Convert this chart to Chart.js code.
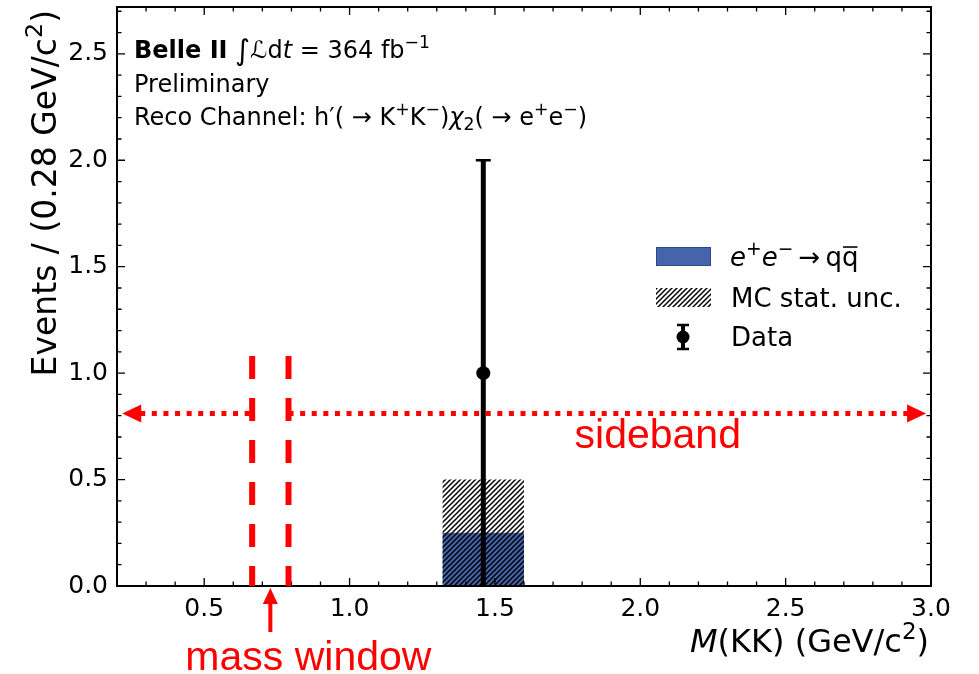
<!DOCTYPE html>
<html>
<head>
<meta charset="utf-8">
<script src="https://cdn.jsdelivr.net/npm/chart.js@4.4.0/dist/chart.umd.min.js"></script>
<style>
  html, body { margin: 0; padding: 0; background: #fff; }
</style>
</head>
<body>
<canvas id="c" width="979" height="674"></canvas>
<script>
// M(KK) histogram: 10 bins of 0.28 GeV/c^2 between 0.2 and 3.0
const binEdges = [0.20, 0.48, 0.76, 1.04, 1.32, 1.60, 1.88, 2.16, 2.44, 2.72, 3.00];
const qqCounts = [0, 0, 0, 0, 0.25, 0, 0, 0, 0, 0];
const qqStatErr = [0, 0, 0, 0, 0.25, 0, 0, 0, 0, 0];

// observed events (poisson error)
const dataX = [1.46];
const dataY = [1];
const dataErr = [1];

const xTicks = [0.5, 1.0, 1.5, 2.0, 2.5, 3.0];
const yTicks = [0.0, 0.5, 1.0, 1.5, 2.0, 2.5];

// mass window and sideband markers
const massWindow = [0.665, 0.79];
const sidebandY = 0.81;
const sidebandEnds = [0.218, 2.983];

const blue = '#4465ac';
const red = '#ff0000';
const font = '"DejaVu Sans"';

const canvas = document.getElementById('c');
const ctx0 = canvas.getContext('2d');

// hatch "////" pattern for the MC stat. uncertainty
function makeHatch() {
  const t = document.createElement('canvas');
  t.width = t.height = 5;
  const g = t.getContext('2d');
  g.strokeStyle = '#000';
  g.lineWidth = 1.5;
  for (const o of [-5, 0, 5]) {
    g.beginPath();
    g.moveTo(o - 1, 6);
    g.lineTo(o + 6, -1);
    g.stroke();
  }
  return ctx0.createPattern(t, 'repeat');
}
const hatch = makeHatch();

function stepPoints(vals) {
  const pts = vals.map((v, i) => ({ x: binEdges[i], y: v }));
  pts.push({ x: binEdges[binEdges.length - 1], y: vals[vals.length - 1] });
  return pts;
}

// text made of runs: bold / italic / super- and subscripts
function drawRuns(ctx, x, y, runs, size, align) {
  const fontOf = r => (r.i ? 'italic ' : '') + (r.b ? 'bold ' : '') + (size * (r.s || 1)).toFixed(1) + 'px ' + font;
  let total = 0;
  for (const r of runs) { ctx.font = fontOf(r); total += ctx.measureText(r.t).width; }
  let cx = align === 'right' ? x - total : x;
  ctx.textAlign = 'left';
  ctx.textBaseline = 'alphabetic';
  for (const r of runs) {
    ctx.font = fontOf(r);
    const w = ctx.measureText(r.t).width;
    ctx.fillText(r.t, cx, y + (r.dy || 0) * size);
    if (r.bar) ctx.fillRect(cx + 1, y - size * 0.76, w - 2, size * 0.06);
    cx += w;
  }
  return total;
}
const sup = t => ({ t: t, s: 0.72, dy: -0.42 });
const sub = t => ({ t: t, s: 0.72, dy: 0.22 });

function arrowHead(ctx, tipX, tipY, dx, dy, len, half) {
  // dx,dy: unit direction the arrow points to
  const bx = tipX - dx * len, by = tipY - dy * len;
  ctx.beginPath();
  ctx.moveTo(tipX, tipY);
  ctx.lineTo(bx - dy * half, by + dx * half);
  ctx.lineTo(bx + dy * half, by - dx * half);
  ctx.closePath();
  ctx.fill();
}

const errorBars = {
  id: 'errorBars',
  afterDatasetsDraw(chart) {
    const { ctx, scales: { x, y } } = chart;
    ctx.save();
    ctx.strokeStyle = '#000';
    dataX.forEach((v, i) => {
      const px = x.getPixelForValue(v);
      const lo = y.getPixelForValue(Math.max(0, dataY[i] - dataErr[i]));
      const hi = y.getPixelForValue(dataY[i] + dataErr[i]);
      ctx.lineWidth = 5;
      ctx.beginPath(); ctx.moveTo(px, lo); ctx.lineTo(px, hi); ctx.stroke();
      ctx.lineWidth = 2.5;
      ctx.beginPath(); ctx.moveTo(px - 7.5, hi); ctx.lineTo(px + 7.5, hi); ctx.stroke();
    });
    ctx.restore();
  }
};

const frame = {
  id: 'frame',
  afterDraw(chart) {
    const { ctx, chartArea: a, scales: { x, y } } = chart;
    ctx.save();
    ctx.strokeStyle = '#000';
    ctx.fillStyle = '#000';

    // inward ticks on all four sides
    ctx.lineWidth = 1.3;
    const tick = (isX, v, len) => {
      if (isX) {
        const p = x.getPixelForValue(v);
        ctx.beginPath();
        ctx.moveTo(p, a.bottom); ctx.lineTo(p, a.bottom - len);
        ctx.moveTo(p, a.top); ctx.lineTo(p, a.top + len);
        ctx.stroke();
      } else {
        const p = y.getPixelForValue(v);
        ctx.beginPath();
        ctx.moveTo(a.left, p); ctx.lineTo(a.left + len, p);
        ctx.moveTo(a.right, p); ctx.lineTo(a.right - len, p);
        ctx.stroke();
      }
    };
    for (let k = Math.ceil(x.min * 10 + 1e-6); k < x.max * 10 - 1e-6; k++) {
      const v = k / 10;
      tick(true, v, xTicks.some(t => Math.abs(t - v) < 1e-6) ? 8 : 4.5);
    }
    for (let k = 1; k < y.max * 10 - 1e-6; k++) {
      const v = k / 10;
      tick(false, v, yTicks.some(t => Math.abs(t - v) < 1e-6) ? 8 : 4.5);
    }
    ctx.lineWidth = 2;
    ctx.strokeRect(a.left, a.top, a.right - a.left, a.bottom - a.top);

    // axis titles
    drawRuns(ctx, a.right - 2, 652, [{ t: 'M', i: 1 }, { t: '(KK) (GeV/c' }, sup('2'), { t: ')' }], 32, 'right');
    ctx.save();
    ctx.translate(56, a.top + 3);
    ctx.rotate(-Math.PI / 2);
    drawRuns(ctx, 0, 0, [{ t: 'Events / (0.28 GeV/c' }, sup('2'), { t: ')' }], 33, 'right');
    ctx.restore();

    // experiment label
    const tx = a.left + 17;
    drawRuns(ctx, tx, 58, [{ t: 'Belle II', b: 1 }, { t: ' ' }, { t: '\u222B', s: 1.2, dy: 0.08 }, { t: '\u2112' },
      { t: 'd' }, { t: 't', i: 1 }, { t: ' = 364 fb' }, sup('\u22121')], 24);
    drawRuns(ctx, tx, 92, [{ t: 'Preliminary' }], 24);
    drawRuns(ctx, tx, 125, [{ t: 'Reco Channel: h\u2032( \u2192 K' }, sup('+'), { t: 'K' }, sup('\u2212'), { t: ')' },
      { t: '\u03C7', i: 1 }, sub('2'), { t: '( \u2192 e' }, sup('+'), { t: 'e' }, sup('\u2212'), { t: ')' }], 24);

    // legend
    ctx.fillStyle = blue;
    ctx.fillRect(656, 247, 55, 19);
    ctx.strokeStyle = '#2d4a85';
    ctx.lineWidth = 1;
    ctx.strokeRect(656.5, 247.5, 54, 18);
    ctx.fillStyle = hatch;
    ctx.fillRect(656, 288, 55, 19);
    ctx.fillStyle = '#000';
    ctx.strokeStyle = '#000';
    ctx.lineWidth = 4;
    ctx.beginPath(); ctx.moveTo(683, 324); ctx.lineTo(683, 350); ctx.stroke();
    ctx.lineWidth = 2.5;
    ctx.beginPath(); ctx.moveTo(677, 325); ctx.lineTo(689, 325); ctx.moveTo(677, 349); ctx.lineTo(689, 349); ctx.stroke();
    ctx.beginPath(); ctx.arc(683, 337, 6.5, 0, Math.PI * 2); ctx.fill();
    drawRuns(ctx, 730, 266, [{ t: 'e', i: 1 }, sup('+'), { t: 'e', i: 1 }, sup('\u2212'), { t: '\u2009\u2192\u2009q' }, { t: 'q', bar: 1 }], 26);
    drawRuns(ctx, 731, 307, [{ t: 'MC stat. unc.' }], 26);
    drawRuns(ctx, 731, 346, [{ t: 'Data' }], 26);

    // mass window lines and sideband arrows
    ctx.strokeStyle = red;
    ctx.fillStyle = red;
    ctx.lineWidth = 6;
    ctx.setLineDash([23, 19]);
    for (const m of massWindow) {
      const p = x.getPixelForValue(m);
      ctx.beginPath();
      ctx.moveTo(p, y.getPixelForValue(1.08));
      ctx.lineTo(p, y.getPixelForValue(0));
      ctx.stroke();
    }
    const sy = y.getPixelForValue(sidebandY);
    const l0 = x.getPixelForValue(sidebandEnds[0]);
    const r0 = x.getPixelForValue(sidebandEnds[1]);
    ctx.lineWidth = 5;
    ctx.setLineDash([5, 6.6]);
    ctx.beginPath();
    ctx.moveTo(l0 + 18, sy); ctx.lineTo(x.getPixelForValue(massWindow[0]), sy);
    ctx.moveTo(x.getPixelForValue(massWindow[1]), sy); ctx.lineTo(r0 - 18, sy);
    ctx.stroke();
    ctx.setLineDash([]);
    arrowHead(ctx, l0, sy, -1, 0, 19, 9);
    arrowHead(ctx, r0, sy, 1, 0, 19, 9);

    ctx.font = '41px "Liberation Sans"';
    ctx.textAlign = 'center';
    ctx.textBaseline = 'alphabetic';
    ctx.fillText('sideband', x.getPixelForValue(2.06), y.getPixelForValue(0.647));

    const mx = x.getPixelForValue((massWindow[0] + massWindow[1]) / 2);
    ctx.lineWidth = 4;
    ctx.beginPath(); ctx.moveTo(mx, a.bottom + 46); ctx.lineTo(mx, a.bottom + 14); ctx.stroke();
    arrowHead(ctx, mx, a.bottom + 2, 0, -1, 16, 7.5);
    ctx.fillText('mass window', mx + 38, a.bottom + 84);
    ctx.restore();
  }
};

new Chart(canvas, {
  type: 'line',
  data: {
    datasets: [
      {
        label: 'e+e- -> qq',
        data: stepPoints(qqCounts),
        stepped: true,
        borderWidth: 0,
        pointRadius: 0,
        backgroundColor: blue,
        fill: 'origin',
        order: 3
      },
      {
        label: 'MC low',
        data: stepPoints(qqCounts.map((v, i) => v - qqStatErr[i])),
        stepped: true,
        borderWidth: 0,
        pointRadius: 0,
        fill: false,
        order: 2
      },
      {
        label: 'MC stat. unc.',
        data: stepPoints(qqCounts.map((v, i) => v + qqStatErr[i])),
        stepped: true,
        borderWidth: 0,
        pointRadius: 0,
        backgroundColor: hatch,
        fill: '-1',
        order: 1
      },
      {
        label: 'Data',
        data: dataX.map((v, i) => ({ x: v, y: dataY[i] })),
        showLine: false,
        pointRadius: 7,
        pointBackgroundColor: '#000',
        pointBorderWidth: 0,
        order: 0
      }
    ]
  },
  options: {
    responsive: false,
    animation: false,
    events: [],
    layout: { padding: { top: 7, right: 48, left: 0, bottom: 0 } },
    plugins: { legend: { display: false }, tooltip: { enabled: false } },
    scales: {
      x: {
        type: 'linear',
        min: 0.2,
        max: 3.0,
        afterBuildTicks: s => { s.ticks = xTicks.map(v => ({ value: v })); },
        afterFit: s => { s.height = 88; s.paddingLeft = 0; s.paddingRight = 0; },
        grid: { display: false, drawTicks: false },
        border: { display: false },
        ticks: {
          autoSkip: false, maxRotation: 0, padding: 8, color: '#000',
          font: { family: 'DejaVu Sans', size: 25 },
          callback: v => v.toFixed(1)
        }
      },
      y: {
        type: 'linear',
        min: 0,
        max: 2.72,
        afterBuildTicks: s => { s.ticks = yTicks.map(v => ({ value: v })); },
        afterFit: s => { s.width = 117; s.paddingTop = 0; s.paddingBottom = 0; },
        grid: { display: false, drawTicks: false },
        border: { display: false },
        ticks: {
          autoSkip: false, padding: 9, color: '#000',
          font: { family: 'DejaVu Sans', size: 25 },
          callback: v => v.toFixed(1)
        }
      }
    }
  },
  plugins: [errorBars, frame]
});
</script>
</body>
</html>
